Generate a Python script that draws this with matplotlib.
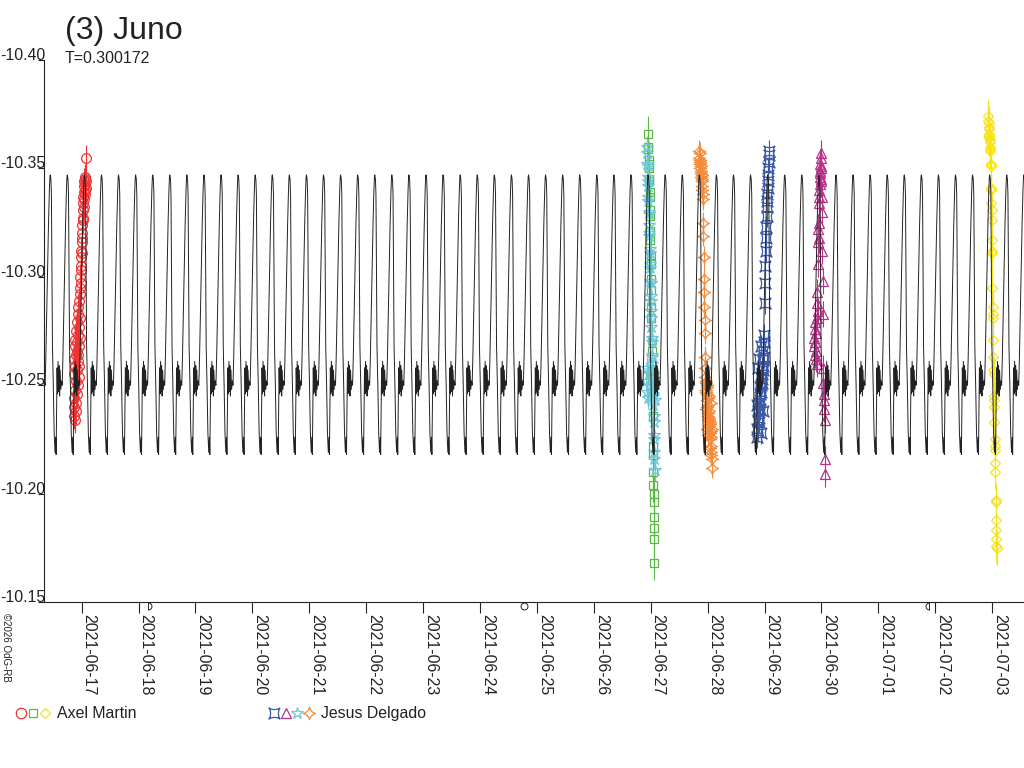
import numpy as np
import matplotlib
matplotlib.use('Agg')
import matplotlib.pyplot as plt
import matplotlib.dates as mdates
from matplotlib.path import Path
from matplotlib.lines import Line2D

plt.rcParams['font.family'] = ['Liberation Sans', 'DejaVu Sans']
plt.rcParams['axes.unicode_minus'] = False

# ---------- data (times = days since 2021-06-17 00:00 UT) ----------
base = mdates.date2num(np.datetime64('2021-06-17T00:00'))

period = 0.300172
peak_epoch = 6.051            # one maximum of the model curve
# one period of the model light curve
model_phase = [0.000, 0.040, 0.070, 0.100, 0.130, 0.180, 0.230, 0.280, 0.320, 0.345,
               0.370, 0.400, 0.430, 0.460, 0.490, 0.520, 0.550, 0.580, 0.620, 0.660,
               0.700, 0.740, 0.800, 0.850, 0.900, 0.950, 0.980]
model_mag = [-10.347, -10.345, -10.338, -10.300, -10.268, -10.250, -10.228, -10.219, -10.226, -10.218,
             -10.236, -10.258, -10.246, -10.261, -10.247, -10.259, -10.245, -10.257, -10.248, -10.252,
             -10.250, -10.262, -10.285, -10.305, -10.325, -10.340, -10.346]

# Axel Martin
t_red = [-0.140, -0.137, -0.133, -0.130, -0.127, -0.123, -0.120, -0.117, -0.113, -0.110,
         -0.107, -0.103, -0.100, -0.097, -0.093, -0.090, -0.087, -0.083, -0.080, -0.077,
         -0.073, -0.070, -0.067, -0.063, -0.060, -0.057, -0.053, -0.050, -0.047, -0.043,
         -0.040, -0.037, -0.033, -0.030,
         -0.027, -0.023, -0.020, -0.016, -0.013, -0.009, -0.006, -0.002, 0.001, 0.005,
         0.008, 0.012, 0.015, 0.019, 0.022, 0.026, 0.029, 0.033, 0.036, 0.040,
         0.043, 0.047, 0.050, 0.054, 0.057, 0.061, 0.064, 0.068, 0.071, 0.075]
m_red = [-10.240, -10.262, -10.236, -10.255, -10.244, -10.268, -10.234, -10.259, -10.248, -10.271,
         -10.238, -10.264, -10.252, -10.275, -10.242, -10.266, -10.257, -10.279, -10.246, -10.270,
         -10.261, -10.283, -10.250, -10.273, -10.264, -10.286, -10.254, -10.277, -10.268, -10.289,
         -10.259, -10.281, -10.272, -10.292,
         -10.295, -10.300, -10.297, -10.305, -10.309, -10.303, -10.312, -10.316, -10.311, -10.320,
         -10.324, -10.318, -10.327, -10.331, -10.326, -10.334, -10.337, -10.332, -10.339, -10.342,
         -10.336, -10.344, -10.340, -10.345, -10.338, -10.343, -10.346, -10.341, -10.344, -10.355]

t_green = [9.955, 9.958, 9.961, 9.964, 9.967, 9.970, 9.973, 9.976, 9.979, 9.982,
           9.985, 9.988, 9.991, 9.994, 9.997, 10.000, 10.003, 10.006, 10.009, 10.012,
           10.015, 10.018, 10.021, 10.024, 10.027, 10.033, 10.038, 10.041, 10.044, 10.047,
           10.050, 10.053, 10.056, 10.059, 10.062, 10.066]
m_green = [-10.366, -10.360, -10.359, -10.354, -10.352, -10.350, -10.345, -10.344, -10.339, -10.337,
           -10.331, -10.328, -10.321, -10.317, -10.310, -10.306, -10.299, -10.294, -10.286, -10.281,
           -10.271, -10.266, -10.257, -10.253, -10.247, -10.236, -10.222, -10.218, -10.210, -10.204,
           -10.200, -10.196, -10.189, -10.184, -10.179, -10.168]

t_yellow = [15.930, 15.933, 15.937, 15.940, 15.943, 15.946, 15.950, 15.953, 15.956, 15.959,
            15.963, 15.966, 15.969, 15.972, 15.976, 15.979, 15.982, 15.985, 15.989, 15.992,
            15.995, 15.998, 16.002, 16.005, 16.008, 16.011, 16.015, 16.018, 16.021, 16.024,
            16.028, 16.031, 16.034, 16.037, 16.041, 16.044, 16.047, 16.050, 16.054, 16.057,
            16.060, 16.063, 16.067, 16.070, 16.073, 16.076, 16.080]
m_yellow = [-10.374, -10.372, -10.371, -10.369, -10.368, -10.366, -10.365, -10.364, -10.363, -10.362,
            -10.360, -10.359, -10.358, -10.352, -10.351, -10.341, -10.340, -10.334, -10.331, -10.326,
            -10.317, -10.312, -10.311, -10.295, -10.286, -10.283, -10.281, -10.271, -10.263, -10.257,
            -10.255, -10.245, -10.243, -10.240, -10.233, -10.225, -10.222, -10.220, -10.214, -10.210,
            -10.197, -10.196, -10.188, -10.183, -10.179, -10.176, -10.175]

# Jesus Delgado
t_blue = [11.870, 11.876, 11.882, 11.888, 11.894, 11.900, 11.906, 11.912, 11.918, 11.924,
          11.930, 11.936, 11.942, 11.948, 11.954, 11.960, 11.966, 11.972, 11.978, 11.984,
          11.990, 11.996, 12.004, 12.010, 12.016, 12.022, 12.028, 12.034, 12.040, 12.044,
          12.048, 12.052, 12.056, 12.060, 12.064, 12.068, 12.072, 12.076, 12.080,
          11.873, 11.885, 11.897, 11.909, 11.921, 11.933, 11.945, 11.957, 11.969, 11.981]
m_blue = [-10.226, -10.230, -10.234, -10.229, -10.238, -10.235, -10.242, -10.239, -10.246, -10.243,
          -10.250, -10.247, -10.254, -10.251, -10.258, -10.255, -10.262, -10.259, -10.266, -10.263,
          -10.270, -10.273, -10.288, -10.297, -10.305, -10.312, -10.318, -10.323, -10.328, -10.332,
          -10.335, -10.338, -10.341, -10.344, -10.347, -10.350, -10.353, -10.356, -10.358,
          -10.241, -10.258, -10.233, -10.262, -10.249, -10.228, -10.268, -10.253, -10.238, -10.257]

t_magenta = [12.870, 12.875, 12.880, 12.885, 12.890, 12.895, 12.900, 12.905, 12.910, 12.915,
             12.920, 12.925, 12.930, 12.934, 12.938, 12.942, 12.946, 12.950, 12.954, 12.958,
             12.962, 12.966, 12.970, 12.973, 12.976, 12.979, 12.982, 12.985, 12.988, 12.991,
             12.994, 12.997, 13.000, 13.005, 13.010, 13.015, 13.020, 13.025, 13.030, 13.035,
             13.040, 13.045, 13.050, 13.055, 13.060, 13.065]
m_magenta = [-10.272, -10.268, -10.276, -10.264, -10.279, -10.270, -10.262, -10.274, -10.266, -10.281,
             -10.260, -10.288, -10.293, -10.284, -10.306, -10.316, -10.322, -10.318, -10.325, -10.334,
             -10.337, -10.340, -10.343, -10.346, -10.349, -10.352, -10.348, -10.355, -10.351, -10.357,
             -10.345, -10.350, -10.344, -10.337, -10.330, -10.312, -10.298, -10.283, -10.258, -10.251,
             -10.246, -10.243, -10.239, -10.234, -10.216, -10.209]

t_cyan = [9.935, 9.938, 9.941, 9.945, 9.948, 9.951, 9.954, 9.958, 9.961, 9.964,
          9.967, 9.971, 9.974, 9.977, 9.980, 9.984, 9.987, 9.990, 9.993, 9.997,
          10.000, 10.003, 10.006, 10.010, 10.013, 10.016, 10.019, 10.023, 10.026, 10.029,
          10.032, 10.036, 10.039, 10.042, 10.045, 10.049, 10.052, 10.055, 10.058, 10.062,
          10.065, 10.068,
          9.925, 9.930, 9.940, 9.960, 9.985, 10.005, 10.020, 10.040, 10.060, 10.072]
m_cyan = [-10.360, -10.357, -10.352, -10.351, -10.346, -10.344, -10.342, -10.337, -10.335, -10.330,
          -10.329, -10.324, -10.320, -10.319, -10.313, -10.311, -10.306, -10.304, -10.298, -10.297,
          -10.291, -10.289, -10.284, -10.281, -10.277, -10.272, -10.270, -10.264, -10.263, -10.257,
          -10.255, -10.250, -10.248, -10.245, -10.241, -10.236, -10.233, -10.227, -10.225, -10.219,
          -10.216, -10.211,
          -10.252, -10.247, -10.258, -10.244, -10.255, -10.249, -10.260, -10.246, -10.253, -10.243]

t_orange = [10.850, 10.854, 10.858, 10.862, 10.866, 10.870, 10.874, 10.878, 10.882, 10.886,
            10.890, 10.894, 10.898, 10.902, 10.906, 10.910, 10.914, 10.918, 10.922, 10.926,
            10.930, 10.934, 10.938, 10.942, 10.946, 10.950, 10.954, 10.958, 10.962, 10.967,
            10.972, 10.977, 10.982, 10.987, 10.992, 10.997, 11.002, 11.007, 11.012, 11.017,
            11.022, 11.027, 11.032, 11.037, 11.042, 11.047, 11.052, 11.057, 11.062, 11.067,
            11.072, 11.077,
            10.964, 10.974, 10.984, 10.994, 11.004, 11.014, 11.024, 11.034, 11.044, 11.054,
            11.064, 11.074]
m_orange = [-10.358, -10.355, -10.357, -10.352, -10.354, -10.350, -10.353, -10.348, -10.351, -10.346,
            -10.349, -10.344, -10.347, -10.342, -10.345, -10.340, -10.338, -10.336, -10.325, -10.319,
            -10.309, -10.299, -10.293, -10.286, -10.280, -10.274, -10.263, -10.258, -10.254, -10.251,
            -10.248, -10.252, -10.246, -10.243, -10.249, -10.240, -10.244, -10.237, -10.241, -10.234,
            -10.238, -10.231, -10.235, -10.228, -10.232, -10.225, -10.229, -10.222, -10.226, -10.219,
            -10.216, -10.212,
            -10.247, -10.239, -10.230, -10.250, -10.236, -10.227, -10.245, -10.233, -10.221, -10.242,
            -10.218, -10.230]

# moon phases (first quarter, full, last quarter)
moon_dates = ['2021-06-18T03:54', '2021-06-24T18:40', '2021-07-01T21:11']

y_ticks = [-10.40, -10.35, -10.30, -10.25, -10.20, -10.15]

# ---------- marker shapes ----------
th = np.linspace(0, 2 * np.pi, 61)
ax_x, ax_y = np.cos(th) ** 3, np.sin(th) ** 3
star4 = Path(np.column_stack([ax_x, ax_y]))
star4_rot = Path(np.column_stack([(ax_x - ax_y) / np.sqrt(2), (ax_x + ax_y) / np.sqrt(2)]))
first_q = Path.wedge(-90, 90)
last_q = Path.wedge(90, 270)

RED, GREEN, YELLOW = '#ee3333', '#5cb845', '#f5e31a'
BLUE, MAGENTA, CYAN, ORANGE = '#3c5aa8', '#b8308a', '#6cc9dc', '#f58a38'
INK = '#222222'

series = [
    (t_red, m_red, RED, 'o', 7, 0.006),
    (t_green, m_green, GREEN, 's', 5.5, 0.008),
    (t_yellow, m_yellow, YELLOW, 'D', 5.0, 0.008),
    (t_blue, m_blue, BLUE, star4_rot, 8, 0.005),
    (t_magenta, m_magenta, MAGENTA, '^', 7.5, 0.006),
    (t_cyan, m_cyan, CYAN, '*', 9, 0.005),
    (t_orange, m_orange, ORANGE, star4, 9, 0.005),
]

# ---------- figure ----------
fig = plt.figure(figsize=(10.24, 7.68), dpi=100)
ax = fig.add_axes([44.3 / 1024, 1 - 602 / 768, (1024 - 44.3) / 1024, 542 / 768])

for t, m, col, mk, ms, err in series:
    tt = base + np.array(t)
    ax.errorbar(tt, m, yerr=err, fmt='none', ecolor=col, elinewidth=0.8, zorder=3)
    ax.plot(tt, m, ls='none', marker=mk, ms=ms, mfc='none', mec=col, mew=0.9, zorder=4)

# model light curve: the read period shape repeated with period T
n_cyc = range(-23, 36)
t_model = np.concatenate([base + peak_epoch + (k + np.array(model_phase)) * period for k in n_cyc])
m_model = np.tile(model_mag, len(n_cyc))
ax.plot(t_model, m_model, color=INK, lw=0.7, zorder=6)

ax.set_xlim(base - 0.657, base + 16.56)
ax.set_ylim(-10.15, -10.40)

ax.set_yticks(y_ticks)
ax.set_yticklabels([f'{v:.2f}' for v in y_ticks])
ax.xaxis.set_major_locator(mdates.DayLocator())
ax.xaxis.set_major_formatter(mdates.DateFormatter('%Y-%m-%d'))

for side in ['top', 'right']:
    ax.spines[side].set_visible(False)
for side in ['left', 'bottom']:
    ax.spines[side].set_color(INK)
    ax.spines[side].set_linewidth(0.8)

ax.tick_params(axis='y', length=4.5, width=0.8, pad=-5.2, labelsize=11.4, colors=INK)
ax.tick_params(axis='x', length=8, width=0.8, pad=0.5, labelsize=11.4, colors=INK)
plt.setp(ax.get_yticklabels(), va='baseline')
plt.setp(ax.get_xticklabels(), rotation=-90, ha='left', va='top')

# moon phase symbols just under the time axis
moon_t = [mdates.date2num(np.datetime64(d)) for d in moon_dates]
trans = ax.get_xaxis_transform()
for mt, mk in zip(moon_t, [first_q, 'o', last_q]):
    ax.plot([mt], [-0.0075], transform=trans, marker=mk, ms=5, mfc='none', mec=INK,
            mew=0.7, ls='none', clip_on=False)

# titles
fig.text(65 / 1024, 1 - 39 / 768, '(3) Juno', fontsize=23, color=INK, ha='left', va='baseline')
fig.text(65 / 1024, 1 - 63 / 768, 'T=0.300172', fontsize=11.4, color=INK, ha='left', va='baseline')
fig.text(6 / 1024, 1 - 613 / 768, '©2026 OdG-RB', fontsize=7, color=INK, rotation=-90,
         ha='center', va='top')

# legend
leg_y = 1 - 713 / 768
for x, col, mk, ms in [(21, RED, 'o', 7.5), (33, GREEN, 's', 6), (45, YELLOW, 'D', 5.5)]:
    fig.add_artist(Line2D([x / 1024], [leg_y], transform=fig.transFigure, marker=mk, ms=ms,
                          mfc='none', mec=col, mew=0.9, ls='none'))
fig.text(57 / 1024, 1 - 718 / 768, 'Axel Martin', fontsize=11.4, color=INK, ha='left', va='baseline')
for x, col, mk, ms in [(274, BLUE, star4_rot, 8), (285.5, MAGENTA, '^', 7.5),
                       (297, CYAN, '*', 9), (308.5, ORANGE, star4, 9)]:
    fig.add_artist(Line2D([x / 1024], [leg_y], transform=fig.transFigure, marker=mk, ms=ms,
                          mfc='none', mec=col, mew=0.9, ls='none'))
fig.text(321 / 1024, 1 - 718 / 768, 'Jesus Delgado', fontsize=11.4, color=INK, ha='left', va='baseline')

fig.savefig('out.png', dpi=100)
